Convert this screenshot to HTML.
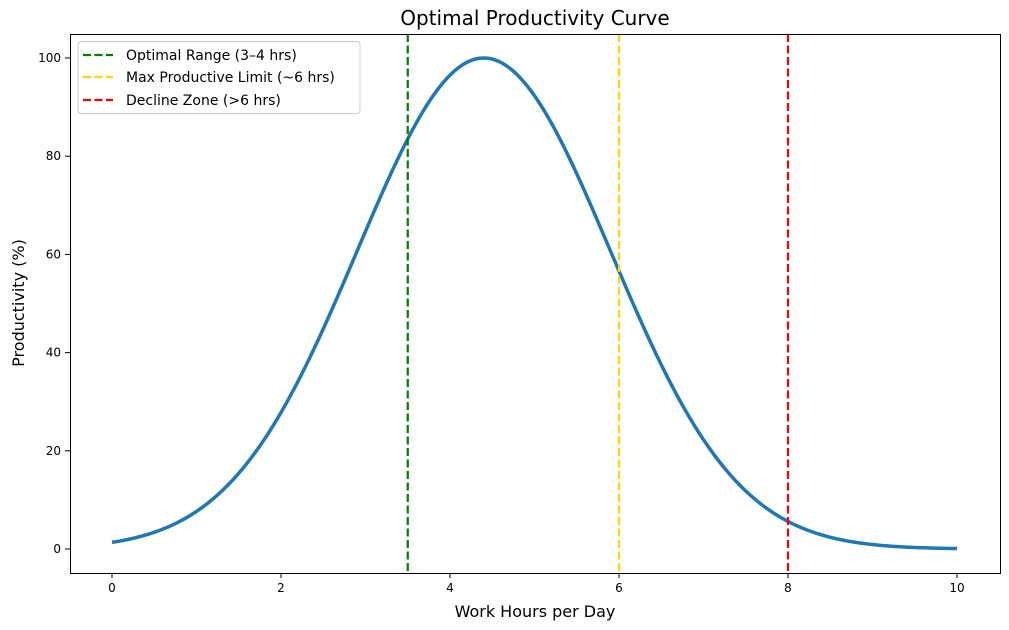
<!DOCTYPE html>
<html><head><style>body{margin:0;background:#fff}svg{display:block;font-family:"DejaVu Sans","Liberation Sans",sans-serif}</style></head>
<body>
<svg id="s" width="1009" height="630" xmlns="http://www.w3.org/2000/svg">
<rect width="1009" height="630" fill="#fff"/>
<text x="535" y="25" font-size="20" text-anchor="middle">Optimal Productivity Curve</text>
<g id="ticks" font-size="12" fill="#000"></g>
<path id="curve" fill="none" stroke="#1f77b4" stroke-width="3.5"/>
<line x1="407.75" y1="34" x2="407.75" y2="573" stroke="#008000" stroke-width="2.2" stroke-dasharray="8,3.5"/>
<line x1="619" y1="34" x2="619" y2="573" stroke="#ffd700" stroke-width="2.2" stroke-dasharray="8,3.5"/>
<line x1="788" y1="34" x2="788" y2="573" stroke="#ff0000" stroke-width="2.2" stroke-dasharray="8,3.5"/>
<rect x="70.5" y="34.5" width="930" height="539" fill="none" stroke="#000" stroke-width="1"/>
<rect x="78" y="41.5" width="282" height="72" rx="3" fill="#fff" fill-opacity="0.8" stroke="#ccc"/>
<line x1="83" y1="55" x2="113" y2="55" stroke="#008000" stroke-width="2.2" stroke-dasharray="8,3.5"/>
<line x1="83" y1="77" x2="113" y2="77" stroke="#ffd700" stroke-width="2.2" stroke-dasharray="8,3.5"/>
<line x1="83" y1="100" x2="113" y2="100" stroke="#ff0000" stroke-width="2.2" stroke-dasharray="8,3.5"/>
<g font-size="14">
<text x="126" y="60">Optimal Range (3–4 hrs)</text>
<text x="126" y="82">Max Productive Limit (~6 hrs)</text>
<text x="126" y="105">Decline Zone (&gt;6 hrs)</text>
</g>
<text x="535" y="617" font-size="16" text-anchor="middle">Work Hours per Day</text>
<text transform="translate(24,303) rotate(-90)" font-size="16" text-anchor="middle">Productivity (%)</text>
</svg>
<script>
var X=function(v){return 112+84.5*v},Y=function(v){return 549-4.91*v};
var d="";for(var i=0;i<=400;i++){var x=i/40,y=100*Math.exp(-Math.pow(x-4.4,2)/4.5);d+=(i?"L":"M")+X(x).toFixed(2)+","+Y(y).toFixed(2);}
document.getElementById("curve").setAttribute("d",d);
var g=document.getElementById("ticks"),h="";
for(var k=0;k<=10;k+=2){var px=X(k);h+='<line x1="'+px+'" y1="573" x2="'+px+'" y2="578" stroke="#000"/><text x="'+px+'" y="592" text-anchor="middle">'+k+'</text>';}
for(var k=0;k<=100;k+=20){var py=Y(k);h+='<line x1="65" y1="'+py+'" x2="70" y2="'+py+'" stroke="#000"/><text x="61" y="'+(py+4)+'" text-anchor="end">'+k+'</text>';}
g.innerHTML=h;
</script>
</body></html>
